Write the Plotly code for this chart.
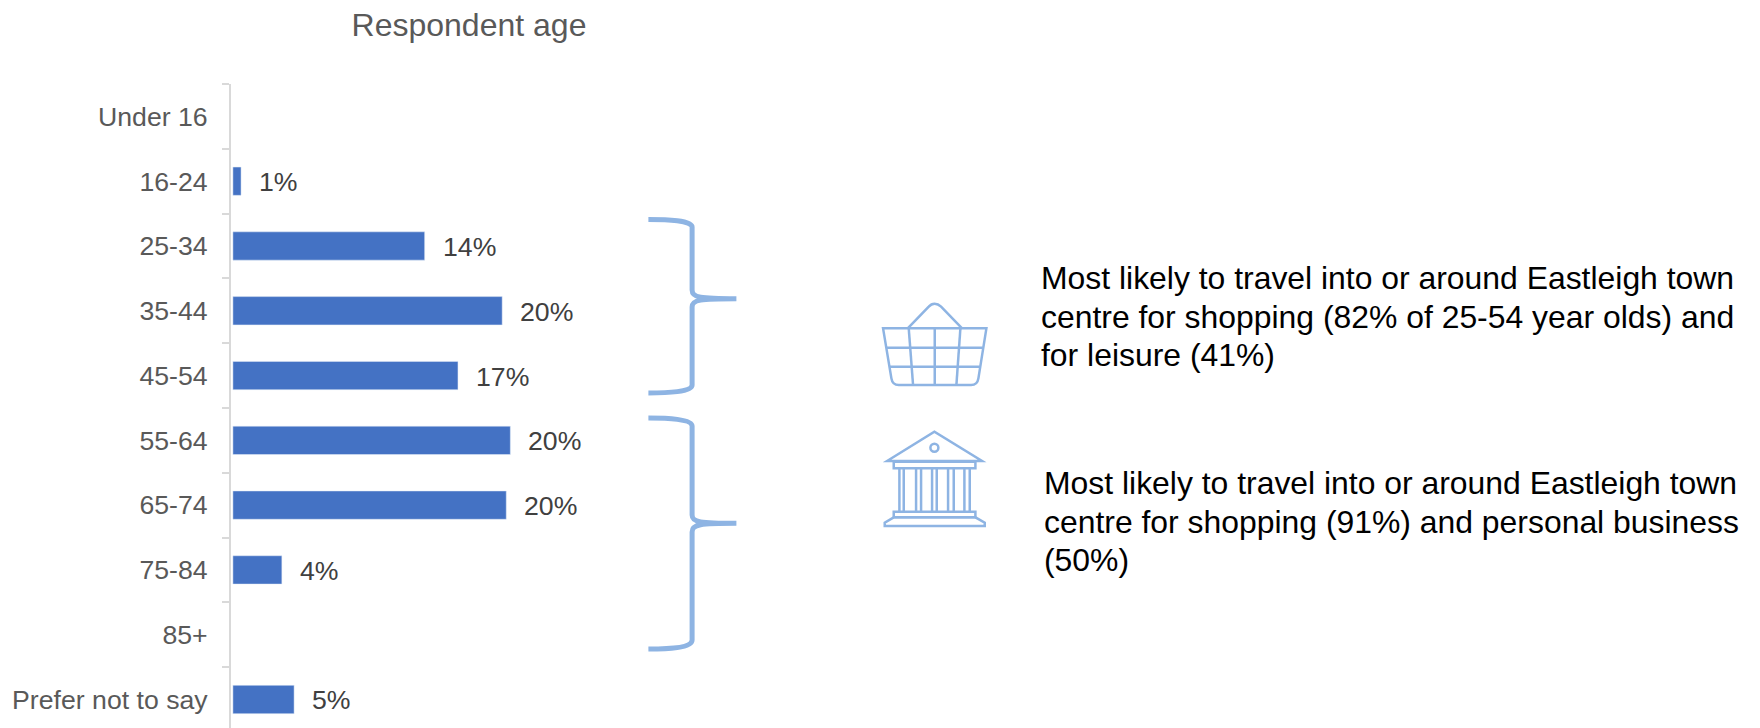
import plotly.graph_objects as go

categories = ["Under 16", "16-24", "25-34", "35-44", "45-54", "55-64", "65-74", "75-84", "85+", "Prefer not to say"]
values = [None, 0.6, 14.1, 19.8, 16.55, 20.4, 20.1, 3.6, None, 4.5]
labels = ["", "1%", "14%", "20%", "17%", "20%", "20%", "4%", "", "5%"]
title_text = "Respondent age"
note_one = ["Most likely to travel into or around Eastleigh town",
            "centre for shopping (82% of 25-54 year olds) and",
            "for leisure (41%)"]
note_two = ["Most likely to travel into or around Eastleigh town",
            "centre for shopping (91%) and personal business",
            "(50%)"]

W, H = 1760, 728
L, T = 230.6, 84
PW, PH = 342, H - T
FONT = "Liberation Sans, Arial, sans-serif"
ICON = "#8EB4E3"


def pt(x, y):
    return f"{(x - L) / PW:.5f} {1 - (y - T) / PH:.5f}"


def path(cmds):
    out = []
    for c in cmds:
        op, *xy = c
        if op == "Z":
            out.append("Z")
        else:
            out.append(op + " ".join(pt(xy[i], xy[i + 1]) for i in range(0, len(xy), 2)))
    return " ".join(out)


def shape(cmds, width, **kw):
    return dict(type="path", xref="paper", yref="paper", path=path(cmds),
                line=dict(color=ICON, width=width), **kw)


def brace(x0, xm, xt, y0, y1, y2, y3, y4, y5, y6):
    return shape([("M", x0, y0), ("C", xm - 25, y0, xm, y0 + 1, xm, y1),
                  ("L", xm, y2), ("C", xm, y3 - 1, xm + 8, y3, xt, y3),
                  ("C", xm + 8, y3, xm, y3 + 1, xm, y4),
                  ("L", xm, y5), ("C", xm, y6 - 1, xm - 25, y6, x0, y6)], 5)


def ic(x, y):
    return 850 + x / 3, 280 + y / 3


def icon_path(points, close=False):
    cmds = []
    for i, p in enumerate(points):
        if len(p) == 6:
            cmds.append(("C",) + ic(p[0], p[1]) + ic(p[2], p[3]) + ic(p[4], p[5]))
        else:
            cmds.append(("M" if i == 0 else "L",) + ic(*p))
    if close:
        cmds.append(("Z",))
    return shape(cmds, 2.5)


shapes = [
    brace(648, 691.7, 736, 219.5, 227, 290, 298.7, 307, 385, 393),
    brace(648, 691.7, 736, 418, 426, 515, 523.3, 532, 640, 649),
]

# basket
shapes += [
    icon_path([(98, 145), (408, 145), (384, 295), (382, 308, 375, 315, 362, 315), (145, 315),
               (132, 315, 125, 308, 123, 295)], True),
    icon_path([(172, 145), (235, 80), (245, 68, 260, 68, 272, 80), (335, 145)]),
    icon_path([(175, 145), (188, 315)]),
    icon_path([(253, 145), (253, 315)]),
    icon_path([(330, 145), (318, 315)]),
    icon_path([(108, 203), (397, 203)]),
    icon_path([(118, 260), (388, 260)]),
]
# bank
shapes += [
    icon_path([(110, 543), (252, 455), (395, 543)], True),
    icon_path([(130, 545), (375, 545), (375, 565), (130, 565)], True),
    icon_path([(130, 695), (375, 695), (375, 712), (130, 712)], True),
    icon_path([(130, 712), (103, 728), (103, 738), (403, 738), (403, 728), (375, 712)], True),
]
for cx in [147, 160, 197, 212, 245, 259, 293, 310, 342, 358]:
    shapes.append(icon_path([(cx, 565), (cx, 695)]))
cx0, cy0 = ic(252, 503)
shapes.append(dict(type="circle", xref="paper", yref="paper",
                   x0=(cx0 - 4 - L) / PW, x1=(cx0 + 4 - L) / PW,
                   y0=1 - (cy0 + 4 - T) / PH, y1=1 - (cy0 - 4 - T) / PH,
                   line=dict(color=ICON, width=2.5)))

annotations = [
    dict(x=v, y=c, xref="x", yref="y", text=t, showarrow=False, xanchor="left", xshift=16, yshift=-1,
         font=dict(family=FONT, size=26.67, color="#404040"))
    for c, v, t in zip(categories, values, labels) if v is not None
]


def note_lines(lines, x, ys):
    return [dict(x=(x - L) / PW, y=1 - (y - T) / PH, xref="paper", yref="paper", text=s, showarrow=False,
                 xanchor="left", yanchor="middle",
                 font=dict(family=FONT, size=31.9, color="#000000"))
            for s, y in zip(lines, ys)]


annotations += note_lines(note_one, 1039, [278, 316.5, 354.7])
annotations += note_lines(note_two, 1042, [483, 521.5, 560])

fig = go.Figure(go.Bar(y=categories, x=values, orientation="h", marker=dict(color="#4472C4"),
                       width=0.437, hoverinfo="skip"))

fig.update_layout(
    width=W, height=H, autosize=False,
    paper_bgcolor="white", plot_bgcolor="white",
    margin=dict(l=L, t=T, r=W - L - PW, b=0, pad=0),
    showlegend=False,
    title=dict(text=title_text, x=469 / W, xref="container", xanchor="center", y=1 - 25 / H, yref="container",
               yanchor="middle", font=dict(family=FONT, size=32, color="#595959")),
    xaxis=dict(range=[-0.14, (PW - 1.9) / 13.6], visible=False, fixedrange=True),
    yaxis=dict(type="category", categoryorder="array", categoryarray=categories,
               range=[9.44, -0.5], tickson="boundaries", ticks="outside", ticklen=7, tickwidth=1.5,
               tickcolor="#D9D9D9", showline=True, linecolor="#D9D9D9", linewidth=2, showgrid=False,
               zeroline=False, ticklabelstandoff=16, fixedrange=True,
               tickfont=dict(family=FONT, size=26.67, color="#595959")),
    shapes=shapes, annotations=annotations,
)
fig.write_html("out.html", config=dict(displayModeBar=False),
               post_script="document.body.style.margin='0';document.body.style.overflow='hidden';")
